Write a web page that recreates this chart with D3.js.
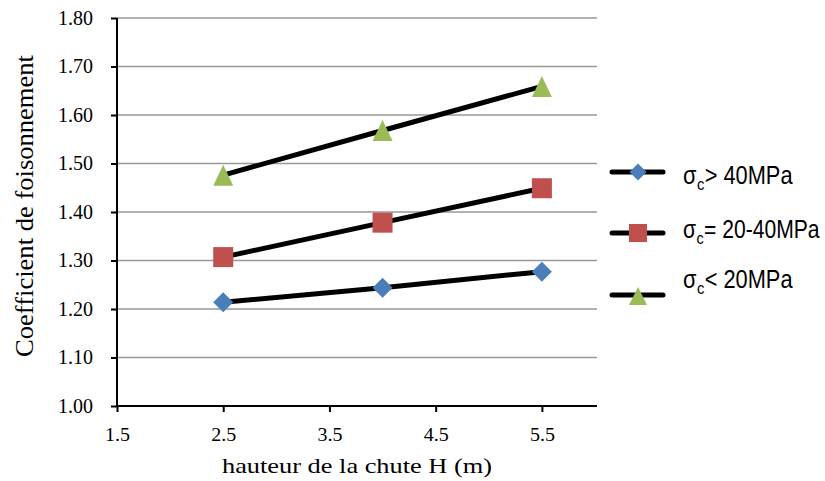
<!DOCTYPE html>
<html><head><meta charset="utf-8">
<script src="https://cdn.jsdelivr.net/npm/d3@7"></script>
<style>body{margin:0;background:#fff}svg{display:block}</style>
</head><body>
<svg id="c" width="825" height="481"></svg>
<script>
const xValues = [2.5, 4.0, 5.5];
const seriesNames = ["> 40MPa", "= 20-40MPa", "< 20MPa"];
const seriesA = [1.214, 1.244, 1.277];
const seriesB = [1.307, 1.378, 1.449];
const seriesC = [1.476, 1.568, 1.659];
const seriesColors = ["#4a7ebb", "#c0504d", "#9bbb59"];
const seriesShapes = ["diamond", "square", "triangle"];
const xTicks = [1.5, 2.5, 3.5, 4.5, 5.5];
const yTicks = [1.0, 1.1, 1.2, 1.3, 1.4, 1.5, 1.6, 1.7, 1.8];

const SERIF = "'Liberation Serif'";
const SANS = "'Liberation Sans'";
const allSeries = [seriesA, seriesB, seriesC];
const svg = d3.select("#c");
const L = 117, R = 595, T = 18, B = 406;
const x = d3.scaleLinear().domain([1.5, 6.0]).range([L, R]);
const y = d3.scaleLinear().domain([1.0, 1.8]).range([B, T]);

svg.append("g").selectAll("line").data(yTicks.slice(1)).join("line")
  .attr("x1", L).attr("x2", R + 2).attr("y1", d => y(d)).attr("y2", d => y(d))
  .attr("stroke", "#999").attr("stroke-width", 1.3);

const yAxis = svg.append("g").attr("transform", `translate(${L},0)`)
  .call(d3.axisLeft(y).tickValues(yTicks).tickFormat(d3.format(".2f")).tickSize(6).tickPadding(18));
const xAxis = svg.append("g").attr("transform", `translate(0,${B})`)
  .call(d3.axisBottom(x).tickValues(xTicks).tickFormat(d3.format(".1f")).tickSize(6).tickPadding(16));
[yAxis, xAxis].forEach(a => {
  a.attr("font-family", null).attr("font-size", null);
  a.select(".domain").attr("stroke", "#000").attr("stroke-width", 2);
  a.selectAll(".tick line").attr("stroke", "#000").attr("stroke-width", 2);
  a.selectAll("text").attr("fill", "#000").style("font-family", SERIF);
});
yAxis.selectAll("text").style("font-size", "20px");
xAxis.selectAll("text").style("font-size", "18px").attr("textLength", 25).attr("lengthAdjust", "spacingAndGlyphs");
xAxis.select(".domain").attr("d", `M${L},0H${R+2}`);
yAxis.select(".domain").attr("d", `M0,${B}V${T}`);

svg.append("text").attr("x", 357).attr("y", 473).attr("text-anchor", "middle")
  .style("font-family", SERIF).style("font-size", "22px")
  .attr("textLength", 270).attr("lengthAdjust", "spacingAndGlyphs")
  .text("hauteur de la chute H (m)");
svg.append("text").attr("transform", "translate(33,206) rotate(-90)").attr("text-anchor", "middle")
  .style("font-family", SERIF).style("font-size", "25px")
  .attr("textLength", 302).attr("lengthAdjust", "spacingAndGlyphs")
  .text("Coefficient de foisonnement");

function marker(g, shape, color, cx, cy) {
  if (shape === "diamond") {
    g.append("path").attr("d", `M${cx},${cy-10}L${cx+10},${cy}L${cx},${cy+10}L${cx-10},${cy}Z`).attr("fill", color);
  } else if (shape === "square") {
    g.append("rect").attr("x", cx-10).attr("y", cy-10).attr("width", 20).attr("height", 20).attr("fill", color);
  } else {
    g.append("path").attr("d", `M${cx},${cy-10.5}L${cx+10},${cy+10.5}L${cx-10},${cy+10.5}Z`).attr("fill", color);
  }
}

const line = d3.line().x((d, i) => x(xValues[i])).y(d => y(d));
allSeries.forEach((s, k) => {
  const g = svg.append("g");
  g.append("path").attr("d", line(s)).attr("fill", "none").attr("stroke", "#000").attr("stroke-width", 5);
  s.forEach((v, i) => marker(g, seriesShapes[k], seriesColors[k], x(xValues[i]), y(v)));
});

const legY = [172, 233, 295];
const textY = [184, 238, 288];
const textW = [110, 137, 110];
seriesNames.forEach((n, k) => {
  const g = svg.append("g");
  const yy = legY[k];
  g.append("line").attr("x1", 612).attr("x2", 663).attr("y1", yy).attr("y2", yy)
    .attr("stroke", "#000").attr("stroke-width", 5).attr("stroke-linecap", "round");
  if (seriesShapes[k] === "diamond") g.append("path").attr("d", `M638,${yy-8.5}L646.5,${yy}L638,${yy+8.5}L629.5,${yy}Z`).attr("fill", seriesColors[k]);
  else if (seriesShapes[k] === "square") g.append("rect").attr("x", 629).attr("y", yy-9).attr("width", 18).attr("height", 18).attr("fill", seriesColors[k]);
  else g.append("path").attr("d", `M638,${yy-8}L647,${yy+10}L629,${yy+10}Z`).attr("fill", seriesColors[k]);
  // legend label: sigma, subscript c, rest, as adjacent texts inside a horizontally condensed group
  const lg = g.append("g");
  const parts = [
    {t: "σ", size: 25, dy: 0},
    {t: "c", size: 17, dy: 6},
    {t: n, size: 25, dy: 0}
  ];
  let cx = 0;
  parts.forEach(p => {
    const el = lg.append("text").attr("x", cx).attr("y", p.dy)
      .style("font-family", SANS).style("font-size", p.size + "px").attr("fill", "#000").text(p.t);
    cx += el.node().getComputedTextLength() + 0.5;
  });
  const sx = textW[k] / cx;
  lg.attr("transform", `translate(683,${textY[k]}) scale(${sx},1)`);
});
</script>
</body></html>
